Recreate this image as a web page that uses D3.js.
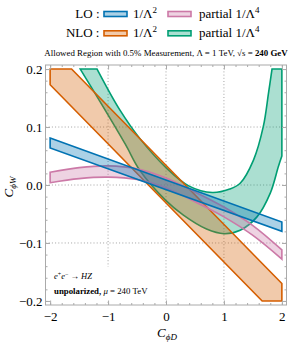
<!DOCTYPE html>
<html>
<head>
<meta charset="utf-8">
<script src="https://cdn.jsdelivr.net/npm/d3@7"></script>
<style>
  body { margin: 0; background: #fff; }
  svg { display: block; font-family: "Liberation Serif", "Times New Roman", serif; }
</style>
</head>
<body>
<div id="chart"></div>
<script>
var W = 291, H = 345;

// tick values
var xTicks = [-2, -1, 0, 1, 2];
var yTicks = [-0.2, -0.1, 0.0, 0.1, 0.2];
var gridX = [-1, 0, 1];
var gridY = [-0.1, 0, 0.1];

// LO 1/L^2 (blue) band edges
var loLinUpper = [[-2, 0.081], [2, -0.064]];
var loLinLower = [[-2, 0.064], [2, -0.080]];

// LO partial 1/L^4 (pink)
var loQuadUpper = [[-2, 0.022], [-1.5, 0.030], [-1.0, 0.033], [-0.5, 0.028], [0, 0.012], [0.5, -0.012], [1.0, -0.038], [1.5, -0.070], [2, -0.112]];
var loQuadLower = [[-2, 0.004], [-1.5, 0.011], [-1.0, 0.0135], [-0.5, 0.0095], [0, -0.005], [0.5, -0.029], [1.0, -0.055], [1.5, -0.087], [2, -0.128]];

// NLO 1/L^2 (orange) - already cut at the plot range
var nloLinUpper = [[-2, 0.2], [-1.63, 0.2], [2, -0.170]];
var nloLinLower = [[-2, 0.173], [1.66, -0.2], [2, -0.2]];

// NLO partial 1/L^4 (green)
var nloQuadInner = [[-1.19, 0.2], [-0.8, 0.13], [-0.45, 0.08], [0, 0.03], [0.4, -0.002], [0.8, -0.013], [1.1, -0.007], [1.28, 0.003], [1.51, 0.043], [1.68, 0.101], [1.77, 0.159], [1.83, 0.2]];
var nloQuadCorner = [[1.83, 0.2], [2, 0.2]];
var nloQuadOuter = [[-1.48, 0.2], [-1.055, 0.13], [-0.7, 0.07], [-0.45, 0.025], [0, -0.027], [0.3, -0.052], [0.7, -0.076], [1.0, -0.084], [1.28, -0.078], [1.57, -0.055], [1.8, -0.014], [1.94, 0.032], [2.0, 0.05]];

var colBlue = "#0072b2", colPink = "#cc79a7", colOrange = "#d55e00", colGreen = "#009e73";

var svg = d3.select("#chart").append("svg")
  .attr("width", W)
  .attr("height", H);

var pL = 45.5, pR = 286.5, pT = 65, pB = 305;

var x = d3.scaleLinear().domain([-2.08, 2.08]).range([pL, pR]);
var y = d3.scaleLinear().domain([-0.207, 0.207]).range([pB, pT]);

// grid
svg.append("g").selectAll("line").data(gridX).enter().append("line")
  .attr("x1", function (d) { return x(d) }).attr("x2", function (d) { return x(d) })
  .attr("y1", pT).attr("y2", pB)
  .attr("stroke", "#999").attr("stroke-width", 0.9).attr("stroke-dasharray", "1,2.2");
svg.append("g").selectAll("line").data(gridY).enter().append("line")
  .attr("y1", function (d) { return y(d) }).attr("y2", function (d) { return y(d) })
  .attr("x1", pL).attr("x2", pR)
  .attr("stroke", "#999").attr("stroke-width", 0.9).attr("stroke-dasharray", "1,2.2");

// joins several edge pieces into one closed outline
function outline(segments) {
  var d = segments.map(function (s, i) {
    var p = d3.line().x(function (v) { return x(v[0]) }).y(function (v) { return y(v[1]) })
      .curve(s.curve || d3.curveLinear)(s.pts);
    return i ? "L" + p.slice(1) : p;
  }).join("");
  return d + "Z";
}

var bands = [
  { col: colGreen, segs: [{ pts: nloQuadInner, curve: d3.curveCatmullRom }, { pts: nloQuadCorner }, { pts: nloQuadOuter.slice().reverse(), curve: d3.curveCatmullRom }] },
  { col: colOrange, segs: [{ pts: nloLinUpper }, { pts: nloLinLower.slice().reverse() }] },
  { col: colPink, segs: [{ pts: loQuadUpper, curve: d3.curveCatmullRom }, { pts: loQuadLower.slice().reverse(), curve: d3.curveCatmullRom }] },
  { col: colBlue, segs: [{ pts: loLinUpper }, { pts: loLinLower.slice().reverse() }] }
];

svg.append("g").selectAll("path").data(bands).enter().append("path")
  .attr("d", function (b) { return outline(b.segs) })
  .attr("fill", function (b) { return b.col })
  .attr("fill-opacity", 0.33)
  .attr("stroke", function (b) { return b.col })
  .attr("stroke-width", 1.6)
  .attr("stroke-linejoin", "miter");

// white box behind the process note
svg.append("rect").attr("x", 50).attr("y", 267).attr("width", 108).attr("height", 34).attr("fill", "#fff");

// axes, ticks pointing inwards on all sides
var frameCol = "#aaa";
var xMinor = d3.range(-2, 2.001, 0.2);
var yMinor = d3.range(-0.2, 0.2001, 0.02);

function styleAxis(g) {
  g.select(".domain").remove();
  g.selectAll(".tick line").attr("stroke", frameCol);
  g.selectAll("text").attr("font-family", "Liberation Serif").attr("font-size", 13).attr("fill", "#000");
}

var fmtY = function (d) { return d3.format(".1f")(d).replace("-", "\u2212") };
var fmtX = function (d) { return d3.format("d")(d).replace("-", "\u2212") };

svg.append("g").attr("transform", "translate(0," + pB + ")")
  .call(d3.axisBottom(x).tickValues(xMinor).tickSize(-2).tickFormat("")).call(styleAxis);
svg.append("g").attr("transform", "translate(0," + pB + ")")
  .call(d3.axisBottom(x).tickValues(xTicks).tickSize(-4.5).tickPadding(7).tickFormat(fmtX)).call(styleAxis);
svg.append("g").attr("transform", "translate(0," + pT + ")")
  .call(d3.axisTop(x).tickValues(xMinor).tickSize(-2).tickFormat("")).call(styleAxis);
svg.append("g").attr("transform", "translate(0," + pT + ")")
  .call(d3.axisTop(x).tickValues(xTicks).tickSize(-4.5).tickFormat("")).call(styleAxis);

svg.append("g").attr("transform", "translate(" + pL + ",0)")
  .call(d3.axisLeft(y).tickValues(yMinor).tickSize(-2).tickFormat("")).call(styleAxis);
svg.append("g").attr("transform", "translate(" + pL + ",0)")
  .call(d3.axisLeft(y).tickValues(yTicks).tickSize(-4.5).tickPadding(3).tickFormat(fmtY)).call(styleAxis);
svg.append("g").attr("transform", "translate(" + pR + ",0)")
  .call(d3.axisRight(y).tickValues(yMinor).tickSize(-2).tickFormat("")).call(styleAxis);
svg.append("g").attr("transform", "translate(" + pR + ",0)")
  .call(d3.axisRight(y).tickValues(yTicks).tickSize(-4.5).tickFormat("")).call(styleAxis);

svg.append("rect").attr("x", pL).attr("y", pT).attr("width", pR - pL).attr("height", pB - pT)
  .attr("fill", "none").attr("stroke", frameCol).attr("stroke-width", 1);

// axis titles
var xl = svg.append("text").attr("x", 167).attr("y", 337).attr("text-anchor", "middle")
  .attr("font-size", 13).attr("font-style", "italic");
xl.append("tspan").text("C");
xl.append("tspan").attr("font-size", 9).attr("dy", 3).text("\u03d5D");

var yl = svg.append("text").attr("transform", "translate(13,187) rotate(-90)").attr("text-anchor", "middle")
  .attr("font-size", 13).attr("font-style", "italic");
yl.append("tspan").text("C");
yl.append("tspan").attr("font-size", 9).attr("dy", 3).text("\u03d5W");

// legend
var legendRows = [
  { label: "LO :", items: [{ col: colBlue, text: "1/\u039b", sup: "2" }, { col: colPink, text: "partial 1/\u039b", sup: "4" }] },
  { label: "NLO :", items: [{ col: colOrange, text: "1/\u039b", sup: "2" }, { col: colGreen, text: "partial 1/\u039b", sup: "4" }] }
];
var swX = [104, 168], txX = [133, 199];
legendRows.forEach(function (r, i) {
  var by = 17.5 + i * 19.3;
  svg.append("text").attr("x", 99.5).attr("y", by).attr("text-anchor", "end").attr("font-size", 13).text(r.label);
  r.items.forEach(function (it, j) {
    svg.append("rect").attr("x", swX[j]).attr("y", by - 6).attr("width", 23).attr("height", 5)
      .attr("fill", it.col).attr("fill-opacity", 0.33).attr("stroke", it.col).attr("stroke-width", 1.6);
    var t = svg.append("text").attr("x", txX[j]).attr("y", by).attr("font-size", 13);
    t.append("tspan").text(it.text);
    t.append("tspan").attr("font-size", 9).attr("dy", -5).text(it.sup);
  });
});

// subtitle
var st = svg.append("text").attr("x", 166).attr("y", 55.5).attr("text-anchor", "middle").attr("font-size", 8.9);
st.append("tspan").text("Allowed Region with 0.5% Measurement,  \u039b = 1 TeV,  \u221as = ");
st.append("tspan").attr("font-weight", "bold").text("240 GeV");

// process note
var p1 = svg.append("text").attr("x", 54).attr("y", 279).attr("font-size", 8.5);
p1.append("tspan").attr("font-style", "italic").text("e");
p1.append("tspan").attr("font-size", 6).attr("dy", -3).text("+");
p1.append("tspan").attr("font-style", "italic").attr("dy", 3).text("e");
p1.append("tspan").attr("font-size", 6).attr("dy", -3).text("\u2212");
p1.append("tspan").attr("dy", 3).text(" \u2192 ");
p1.append("tspan").attr("font-style", "italic").text("HZ");

var p2 = svg.append("text").attr("x", 54).attr("y", 294).attr("font-size", 8.8);
p2.append("tspan").attr("font-weight", "bold").text("unpolarized,");
p2.append("tspan").text("  ");
p2.append("tspan").attr("font-style", "italic").text("\u03bc");
p2.append("tspan").text(" = 240 TeV");
</script>
</body>
</html>
